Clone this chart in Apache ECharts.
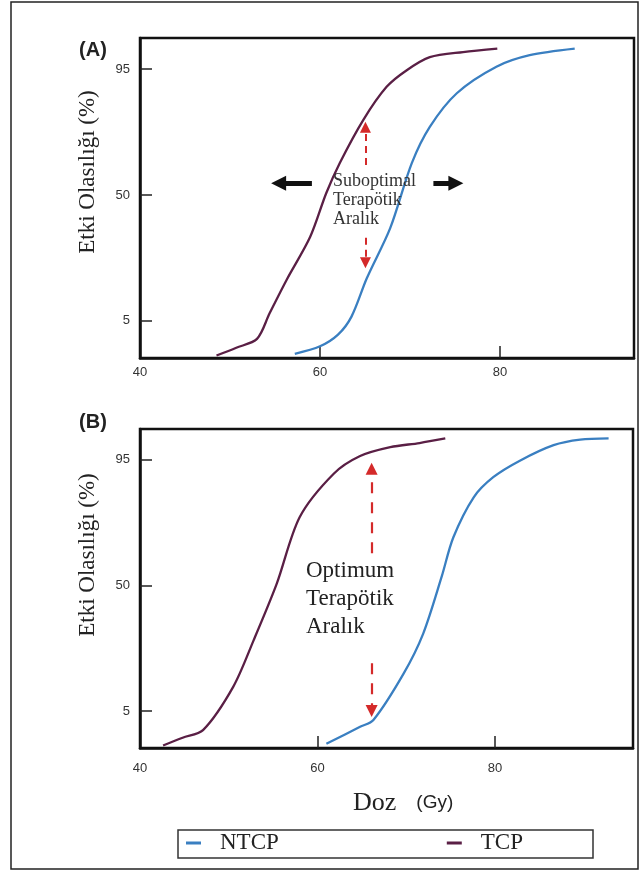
<!DOCTYPE html>
<html>
<head>
<meta charset="utf-8">
<script src="https://cdn.jsdelivr.net/npm/echarts@6/dist/echarts.min.js"></script>
<style>
  html, body { margin: 0; padding: 0; background: #fff; }
  #chart { width: 640px; height: 872px; }
</style>
</head>
<body>
<div id="chart"></div>
<script>
// dose (Gy) / probability (%)
const tcpDoseA = [48.5, 50.7, 53.0, 54.4, 56.3, 58.9, 60.7, 62.2, 64.8, 67.4, 69.6, 72.2, 75.9, 79.7];
const tcpProbA = [1.8, 2.3, 3.0, 6.1, 13.4, 29.1, 51, 66.2, 83.6, 92.1, 94.8, 96.4, 96.9, 97.2];
const ntcpDoseA = [57.2, 60.0, 62.0, 63.5, 65.2, 67.8, 70.2, 72.2, 75.2, 79.6, 83.3, 88.3];
const ntcpProbA = [1.9, 2.4, 3.4, 5.6, 13.8, 33.2, 66.1, 81.3, 90.8, 95.3, 96.6, 97.2];

const tcpDoseB = [42.6, 44.8, 47.1, 50.5, 52.8, 55.4, 58.0, 61.8, 64.8, 68.2, 71.5, 74.4];
const tcpProbB = [1.8, 2.3, 2.9, 9.2, 23.6, 50.8, 81.5, 92.8, 95.5, 96.5, 96.9, 97.3];
const ntcpDoseB = [61.0, 64.8, 66.3, 69.7, 71.9, 74.0, 75.3, 77.6, 79.8, 82.8, 86.6, 89.6, 92.8];
const ntcpProbB = [1.9, 3.2, 3.9, 12.4, 26.3, 54.7, 73.5, 87.6, 92.2, 94.9, 96.7, 97.2, 97.3];

const xTicks = [40, 60, 80];
const yTicks = [5, 50, 95];

// annotation arrows: [dose, prob] start -> end
const redArrowsA = [[[65.05, 65.2], [65.05, 81.2]], [[65.05, 28.8], [65.05, 18.8]]];
const blackArrowsA = [[[59.1, 56.1], [55.4, 56.1]], [[72.6, 56.1], [75.1, 56.1]]];
const redArrowsB = [[[66.1, 66.3], [66.1, 93.7]], [[66.1, 15.4], [66.1, 5.0]]];

// probit scale (inverse normal cdf)
function probit(p) {
  const a = [-3.969683028665376e+01, 2.209460984245205e+02, -2.759285104469687e+02, 1.383577518672690e+02, -3.066479806614716e+01, 2.506628277459239e+00];
  const b = [-5.447609879822406e+01, 1.615858368580409e+02, -1.556989798598866e+02, 6.680131188771972e+01, -1.328068155288572e+01];
  const c = [-7.784894002430293e-03, -3.223964580411365e-01, -2.400758277161838e+00, -2.549671059254539e+00, 4.374664141464968e+00, 2.938163982698783e+00];
  const d = [7.784695709041462e-03, 3.224671290700398e-01, 2.445134137142996e+00, 3.754408661907416e+00];
  const pl = 0.02425;
  let q, r;
  if (p < pl) {
    q = Math.sqrt(-2 * Math.log(p));
    return (((((c[0] * q + c[1]) * q + c[2]) * q + c[3]) * q + c[4]) * q + c[5]) / ((((d[0] * q + d[1]) * q + d[2]) * q + d[3]) * q + 1);
  }
  if (p > 1 - pl) {
    q = Math.sqrt(-2 * Math.log(1 - p));
    return -(((((c[0] * q + c[1]) * q + c[2]) * q + c[3]) * q + c[4]) * q + c[5]) / ((((d[0] * q + d[1]) * q + d[2]) * q + d[3]) * q + 1);
  }
  q = p - 0.5; r = q * q;
  return (((((a[0] * r + a[1]) * r + a[2]) * r + a[3]) * r + a[4]) * r + a[5]) * q / (((((b[0] * r + b[1]) * r + b[2]) * r + b[3]) * r + b[4]) * r + 1);
}

const pts = (xs, ps) => xs.map((x, i) => [x, probit(ps[i] / 100)]);
const tickZ = yTicks.map(p => probit(p / 100));

const BLUE = "#3a7fc1";
const PURPLE = "#5a1f45";
const RED = "#d42a2a";

function arrows(list, color, width, dash, size) {
  return {
    silent: true,
    symbol: ["none", "triangle"],
    symbolSize: size,
    label: { show: false },
    lineStyle: { color: color, width: width, type: dash },
    itemStyle: { color: color },
    emphasis: { disabled: true },
    data: list.map(a => [
      { coord: [a[0][0], probit(a[0][1] / 100)] },
      { coord: [a[1][0], probit(a[1][1] / 100)] }
    ])
  };
}

function xAxis(idx, max, margin) {
  return {
    type: "value",
    gridIndex: idx,
    min: 40,
    max: max,
    axisLine: { show: true, onZero: false, lineStyle: { color: "#111", width: 2.5 } },
    axisTick: { show: true, inside: true, length: 12, customValues: [60, 80], lineStyle: { color: "#222", width: 1.5 } },
    axisLabel: { customValues: xTicks, margin: margin, fontFamily: "Liberation Sans", fontSize: 13, color: "#333" },
    splitLine: { show: false }
  };
}

function yAxis(idx) {
  return {
    type: "value",
    gridIndex: idx,
    min: -2.13,
    max: 2.05,
    axisLine: { show: true, onZero: false, lineStyle: { color: "#111", width: 2.5 } },
    axisTick: { show: true, inside: true, length: 12, customValues: tickZ, lineStyle: { color: "#222", width: 1.5 } },
    axisLabel: {
      customValues: tickZ,
      margin: 10,
      fontFamily: "Liberation Sans",
      fontSize: 13,
      color: "#333",
      formatter: v => {
        const i = tickZ.findIndex(z => Math.abs(z - v) < 1e-6);
        return i >= 0 ? String(yTicks[i]) : "";
      }
    },
    splitLine: { show: false }
  };
}

function curve(name, color, idx, data, markLine) {
  const s = {
    name: name,
    type: "line",
    xAxisIndex: idx,
    yAxisIndex: idx,
    data: data,
    smooth: 0.3,
    showSymbol: false,
    symbol: "none",
    lineStyle: { color: color, width: 2.3 },
    itemStyle: { color: color },
    z: 3
  };
  if (markLine) s.markLine = markLine;
  return s;
}

const chart = echarts.init(document.getElementById("chart"), null, { renderer: "canvas" });

chart.setOption({
  animation: false,
  backgroundColor: "#fff",
  grid: [
    { left: 140, top: 38, width: 494, height: 320, show: true, borderColor: "#111", borderWidth: 2.5 },
    { left: 140, top: 429, width: 493, height: 319, show: true, borderColor: "#111", borderWidth: 2.5 }
  ],
  xAxis: [xAxis(0, 40 + 494 / 9, 8), xAxis(1, 40 + 493 / 8.875, 14)],
  yAxis: [yAxis(0), yAxis(1)],
  legend: {
    data: ["NTCP", "TCP"],
    left: 186,
    top: 830,
    padding: 0,
    icon: "rect",
    itemWidth: 15,
    itemHeight: 3,
    itemGap: 168,
    selectedMode: false,
    textStyle: { fontFamily: "Liberation Serif", fontSize: 23, color: "#222", lineHeight: 26, padding: [0, 0, 0, 14] }
  },
  series: [
    curve("NTCP", BLUE, 0, pts(ntcpDoseA, ntcpProbA), arrows(redArrowsA, RED, 2, [7, 5], 11)),
    curve("TCP", PURPLE, 0, pts(tcpDoseA, tcpProbA), arrows(blackArrowsA, "#111", 5, "solid", 15)),
    curve("NTCP", BLUE, 1, pts(ntcpDoseB, ntcpProbB), arrows(redArrowsB, RED, 2.2, [11, 9], 12)),
    curve("TCP", PURPLE, 1, pts(tcpDoseB, tcpProbB))
  ],
  graphic: [
    { type: "rect", shape: { x: 11, y: 2, width: 627, height: 867 }, style: { fill: "none", stroke: "#222", lineWidth: 1.5 }, silent: true },
    { type: "rect", shape: { x: 178, y: 830, width: 415, height: 28 }, style: { fill: "none", stroke: "#333", lineWidth: 1.5 }, silent: true },
    { type: "text", x: 93, y: 50, style: { text: "(A)", font: "bold 20px 'Liberation Sans'", fill: "#222", align: "center", verticalAlign: "middle" } },
    { type: "text", x: 93, y: 422, style: { text: "(B)", font: "bold 20px 'Liberation Sans'", fill: "#222", align: "center", verticalAlign: "middle" } },
    { type: "text", x: 88, y: 172, rotation: Math.PI / 2, style: { text: "Etki Olasılığı (%)", font: "23px 'Liberation Serif'", fill: "#222", align: "center", verticalAlign: "middle" } },
    { type: "text", x: 88, y: 555, rotation: Math.PI / 2, style: { text: "Etki Olasılığı (%)", font: "23px 'Liberation Serif'", fill: "#222", align: "center", verticalAlign: "middle" } },
    {
      type: "text", x: 333, y: 172, z: 10,
      style: { text: "Suboptimal\nTerapötik\nAralık", font: "18px 'Liberation Serif'", lineHeight: 19, fill: "#333", align: "left", verticalAlign: "top" }
    },
    {
      type: "text", x: 306, y: 557, z: 10,
      style: { text: "Optimum\nTerapötik\nAralık", font: "23px 'Liberation Serif'", lineHeight: 28, fill: "#222", align: "left", verticalAlign: "top" }
    },
    {
      type: "text", x: 353, y: 803,
      style: {
        text: "{a|Doz}{b|(Gy)}",
        verticalAlign: "middle",
        align: "left",
        rich: {
          a: { fontFamily: "Liberation Serif", fontSize: 26, fill: "#222" },
          b: { fontFamily: "Liberation Sans", fontSize: 19, fill: "#222", padding: [0, 0, 0, 20] }
        }
      }
    }
  ]
});
</script>
</body>
</html>
